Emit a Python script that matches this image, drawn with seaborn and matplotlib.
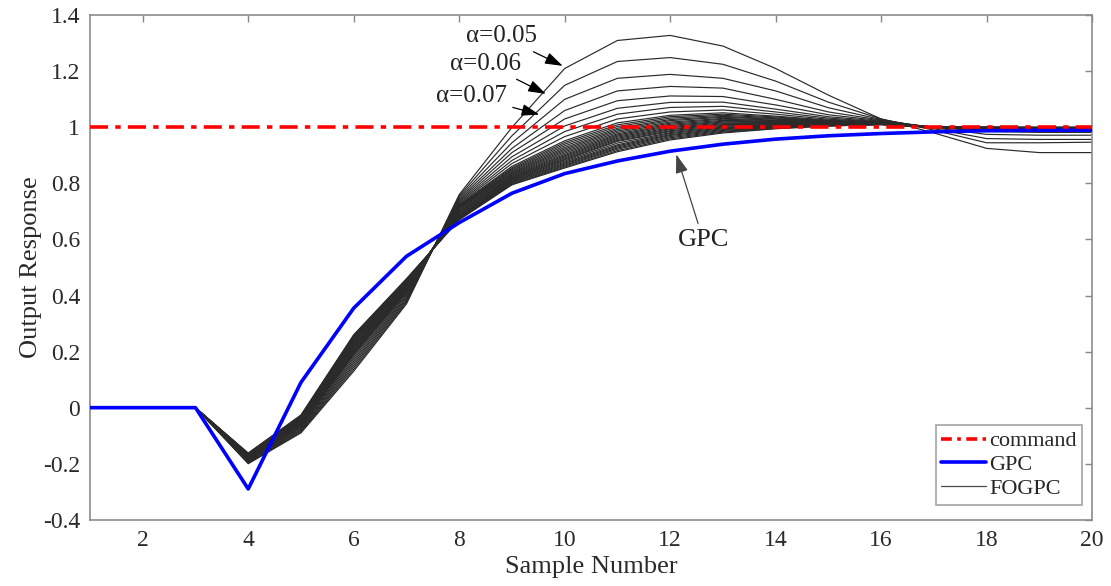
import numpy as np
import pandas as pd
import matplotlib
matplotlib.use("Agg")
import matplotlib.pyplot as plt
from matplotlib.lines import Line2D
import seaborn as sns

# ---------------- data ----------------
samples = list(range(1, 21))
command = [1.0] * 20
gpc = [0, 0, 0, -0.29, 0.09, 0.355, 0.54, 0.66, 0.765, 0.835,
       0.88, 0.915, 0.94, 0.958, 0.97, 0.978, 0.984, 0.988, 0.99, 0.99]

fogpc_a005 = [0, 0, 0, -0.200, -0.090, 0.130, 0.370, 0.760, 1.000, 1.210, 1.310, 1.328, 1.290, 1.210, 1.115, 1.030, 0.980, 0.925, 0.910, 0.910]
fogpc_a006 = [0, 0, 0, -0.198, -0.087, 0.137, 0.375, 0.755, 0.970, 1.150, 1.235, 1.249, 1.225, 1.165, 1.090, 1.030, 0.990, 0.945, 0.945, 0.947]
fogpc_a007 = [0, 0, 0, -0.196, -0.083, 0.144, 0.380, 0.750, 0.945, 1.100, 1.175, 1.189, 1.175, 1.130, 1.070, 1.028, 0.995, 0.960, 0.957, 0.957]
fogpc_a008 = [0, 0, 0, -0.194, -0.080, 0.151, 0.385, 0.745, 0.925, 1.060, 1.130, 1.146, 1.140, 1.100, 1.055, 1.026, 0.998, 0.975, 0.972, 0.972]
fogpc_a009 = [0, 0, 0, -0.192, -0.077, 0.158, 0.390, 0.740, 0.910, 1.030, 1.095, 1.112, 1.110, 1.080, 1.045, 1.024, 1.000, 0.985, 0.982, 0.982]
fogpc_a010 = [0, 0, 0, -0.190, -0.073, 0.165, 0.395, 0.736, 0.895, 1.005, 1.068, 1.089, 1.090, 1.065, 1.038, 1.022, 1.000, 0.990, 0.988, 0.988]
fogpc_a011 = [0, 0, 0, -0.188, -0.070, 0.172, 0.400, 0.732, 0.882, 0.985, 1.047, 1.071, 1.075, 1.055, 1.033, 1.020, 1.000, 0.993, 0.990, 0.990]
fogpc_a012 = [0, 0, 0, -0.186, -0.067, 0.179, 0.405, 0.728, 0.871, 0.967, 1.030, 1.055, 1.062, 1.047, 1.029, 1.019, 1.001, 0.995, 0.992, 0.992]
fogpc_a013 = [0, 0, 0, -0.184, -0.063, 0.186, 0.410, 0.724, 0.861, 0.952, 1.016, 1.043, 1.052, 1.040, 1.026, 1.018, 1.001, 0.996, 0.994, 0.994]
fogpc_a0135 = [0, 0, 0, -0.183, -0.062, 0.190, 0.412, 0.722, 0.856, 0.946, 1.009, 1.038, 1.047, 1.037, 1.024, 1.017, 1.001, 0.996, 0.994, 0.994]
fogpc_a014 = [0, 0, 0, -0.182, -0.060, 0.193, 0.415, 0.720, 0.852, 0.940, 1.003, 1.033, 1.043, 1.034, 1.023, 1.017, 1.001, 0.997, 0.995, 0.995]
fogpc_a0145 = [0, 0, 0, -0.181, -0.058, 0.197, 0.418, 0.718, 0.848, 0.934, 0.997, 1.028, 1.039, 1.031, 1.022, 1.016, 1.001, 0.997, 0.995, 0.995]
fogpc_a015 = [0, 0, 0, -0.180, -0.057, 0.200, 0.420, 0.716, 0.845, 0.928, 0.992, 1.024, 1.036, 1.029, 1.021, 1.016, 1.001, 0.998, 0.996, 0.996]
fogpc_a0155 = [0, 0, 0, -0.179, -0.055, 0.204, 0.422, 0.714, 0.841, 0.923, 0.987, 1.019, 1.032, 1.026, 1.020, 1.015, 1.001, 0.998, 0.996, 0.996]
fogpc_a016 = [0, 0, 0, -0.178, -0.053, 0.207, 0.425, 0.712, 0.838, 0.918, 0.982, 1.015, 1.029, 1.024, 1.019, 1.015, 1.001, 0.998, 0.997, 0.997]
fogpc_a0165 = [0, 0, 0, -0.177, -0.052, 0.210, 0.428, 0.710, 0.835, 0.913, 0.977, 1.011, 1.025, 1.022, 1.018, 1.014, 1.001, 0.998, 0.997, 0.997]
fogpc_a017 = [0, 0, 0, -0.176, -0.050, 0.214, 0.430, 0.706, 0.832, 0.908, 0.973, 1.007, 1.022, 1.020, 1.017, 1.014, 1.001, 0.999, 0.997, 0.997]
fogpc_a0175 = [0, 0, 0, -0.175, -0.048, 0.218, 0.432, 0.703, 0.829, 0.903, 0.969, 1.003, 1.019, 1.018, 1.016, 1.013, 1.001, 0.999, 0.997, 0.997]
fogpc_a018 = [0, 0, 0, -0.174, -0.047, 0.221, 0.435, 0.700, 0.826, 0.899, 0.965, 0.999, 1.016, 1.016, 1.015, 1.013, 1.001, 0.999, 0.998, 0.998]
fogpc_a0185 = [0, 0, 0, -0.173, -0.045, 0.224, 0.438, 0.697, 0.823, 0.895, 0.961, 0.995, 1.013, 1.014, 1.014, 1.012, 1.001, 0.999, 0.998, 0.998]
fogpc_a019 = [0, 0, 0, -0.172, -0.043, 0.228, 0.440, 0.694, 0.821, 0.891, 0.957, 0.992, 1.010, 1.012, 1.013, 1.012, 1.001, 0.999, 0.998, 0.998]
fogpc_a0195 = [0, 0, 0, -0.171, -0.042, 0.232, 0.442, 0.691, 0.818, 0.887, 0.953, 0.988, 1.007, 1.010, 1.012, 1.012, 1.001, 0.999, 0.998, 0.998]
fogpc_a020 = [0, 0, 0, -0.170, -0.040, 0.235, 0.445, 0.688, 0.816, 0.884, 0.950, 0.985, 1.004, 1.008, 1.011, 1.012, 1.001, 1.000, 0.999, 0.999]
fogpc_a0205 = [0, 0, 0, -0.169, -0.038, 0.238, 0.446, 0.685, 0.813, 0.880, 0.944, 0.981, 1.001, 1.006, 1.010, 1.011, 1.001, 1.000, 0.999, 0.999]
fogpc_a021 = [0, 0, 0, -0.168, -0.037, 0.242, 0.448, 0.682, 0.811, 0.876, 0.938, 0.978, 0.998, 1.005, 1.009, 1.011, 1.001, 1.000, 0.999, 0.999]
fogpc_a0215 = [0, 0, 0, -0.167, -0.035, 0.245, 0.450, 0.680, 0.808, 0.872, 0.934, 0.974, 0.995, 1.003, 1.008, 1.011, 1.000, 1.000, 0.999, 0.999]
fogpc_a022 = [0, 0, 0, -0.166, -0.033, 0.249, 0.452, 0.678, 0.806, 0.869, 0.930, 0.971, 0.992, 1.002, 1.007, 1.011, 1.000, 1.000, 0.999, 0.999]
fogpc_a0225 = [0, 0, 0, -0.165, -0.031, 0.252, 0.454, 0.676, 0.803, 0.865, 0.926, 0.967, 0.989, 1.000, 1.006, 1.010, 1.000, 1.000, 1.000, 1.000]
fogpc_a023 = [0, 0, 0, -0.164, -0.030, 0.255, 0.456, 0.674, 0.800, 0.862, 0.922, 0.963, 0.986, 0.998, 1.006, 1.010, 1.000, 1.000, 1.000, 1.000]
fogpc_a0235 = [0, 0, 0, -0.163, -0.028, 0.258, 0.458, 0.672, 0.797, 0.858, 0.917, 0.959, 0.983, 0.996, 1.005, 1.010, 1.000, 1.000, 1.000, 1.000]
fogpc_a024 = [0, 0, 0, -0.162, -0.026, 0.260, 0.460, 0.670, 0.795, 0.855, 0.913, 0.955, 0.980, 0.995, 1.005, 1.010, 1.000, 1.000, 1.000, 1.000]

fogpc_series = [fogpc_a005, fogpc_a006, fogpc_a007, fogpc_a008, fogpc_a009,
                fogpc_a010, fogpc_a011, fogpc_a012, fogpc_a013, fogpc_a0135,
                fogpc_a014, fogpc_a0145, fogpc_a015, fogpc_a0155, fogpc_a016,
                fogpc_a0165, fogpc_a017, fogpc_a0175, fogpc_a018, fogpc_a0185,
                fogpc_a019, fogpc_a0195, fogpc_a020, fogpc_a0205, fogpc_a021,
                fogpc_a0215, fogpc_a022, fogpc_a0225, fogpc_a023, fogpc_a0235,
                fogpc_a024]

x_ticks = [2, 4, 6, 8, 10, 12, 14, 16, 18, 20]
y_ticks = [-0.4, -0.2, 0, 0.2, 0.4, 0.6, 0.8, 1.0, 1.2, 1.4]
y_tick_labels = ["-0.4", "-0.2", "0", "0.2", "0.4", "0.6", "0.8", "1", "1.2", "1.4"]

# ---------------- style ----------------
sns.set_theme(style="white")
plt.rcParams["font.family"] = ["Liberation Serif", "DejaVu Serif"]

fig = plt.figure(figsize=(11.11, 5.86), dpi=100)
ax = fig.add_axes([0.081, 0.113, 0.902, 0.861])

rows = []
for i, s in enumerate(fogpc_series):
    for xv, yv in zip(samples, s):
        rows.append({"x": xv, "y": yv, "curve": i})
df_fo = pd.DataFrame(rows)

sns.lineplot(data=df_fo, x="x", y="y", units="curve", estimator=None,
             color="#2a2a2a", linewidth=0.85, ax=ax, legend=False)
sns.lineplot(x=samples, y=command, color="red", linewidth=2.6,
             linestyle=(0, (5, 2, 1.5, 2)), ax=ax, legend=False, zorder=5)
sns.lineplot(x=samples, y=gpc, color="#0000ff", linewidth=2.6, ax=ax,
             legend=False, zorder=4)

ax.set_xlim(1, 20)
ax.set_ylim(-0.4, 1.4)
ax.set_xticks(x_ticks)
ax.set_yticks(y_ticks)
ax.set_yticklabels(y_tick_labels)
ax.tick_params(direction="in", length=5, width=1, color="#888888",
               labelsize=17, top=True, right=True, pad=7, labelcolor="#2a2a2a")
for sp in ax.spines.values():
    sp.set_color("#8c8c8c")
    sp.set_linewidth(1.2)
ax.set_xlabel("Sample Number", fontsize=19, color="#2a2a2a", labelpad=4)
ax.set_ylabel("Output Response", fontsize=19, color="#2a2a2a", labelpad=1)

# annotations
arrow_kw = dict(arrowstyle="-|>,head_length=0.6,head_width=0.2", color="black", lw=0.9)
ax.annotate("α=0.05", xy=(10.01, 1.215), xytext=(8.80, 1.325), fontsize=18,
            ha="center", va="center", color="#222222",
            arrowprops=dict(**arrow_kw, shrinkA=2))
ax.annotate("α=0.06", xy=(9.69, 1.115), xytext=(8.50, 1.227), fontsize=18,
            ha="center", va="center", color="#222222",
            arrowprops=dict(**arrow_kw, shrinkA=2))
ax.annotate("α=0.07", xy=(9.57, 1.043), xytext=(8.23, 1.111), fontsize=18,
            ha="center", va="center", color="#222222",
            arrowprops=dict(**arrow_kw, shrinkA=2))
ax.annotate("GPC", xy=(12.10, 0.913), xytext=(12.63, 0.597), fontsize=19,
            ha="center", va="center", color="#222222",
            arrowprops=dict(arrowstyle="-|>,head_length=0.6,head_width=0.2",
                            color="#444444", lw=0.9, shrinkA=2))

handles = [
    Line2D([], [], color="red", lw=2.6, linestyle=(0, (3, 1.5, 1, 1.5))),
    Line2D([], [], color="#0000ff", lw=2.6),
    Line2D([], [], color="#4a4a4a", lw=0.9),
]
leg = ax.legend(handles, ["command", "GPC", "FOGPC"], loc="lower right",
                fontsize=16, frameon=True, fancybox=False, handlelength=2.0,
                handletextpad=0.15, borderpad=0.25, labelspacing=0.15,
                borderaxespad=0, bbox_to_anchor=(0.99, 0.03))
leg.get_frame().set_edgecolor("#8c8c8c")
leg.get_frame().set_linewidth(1.2)

fig.savefig("out.png", dpi=100)
